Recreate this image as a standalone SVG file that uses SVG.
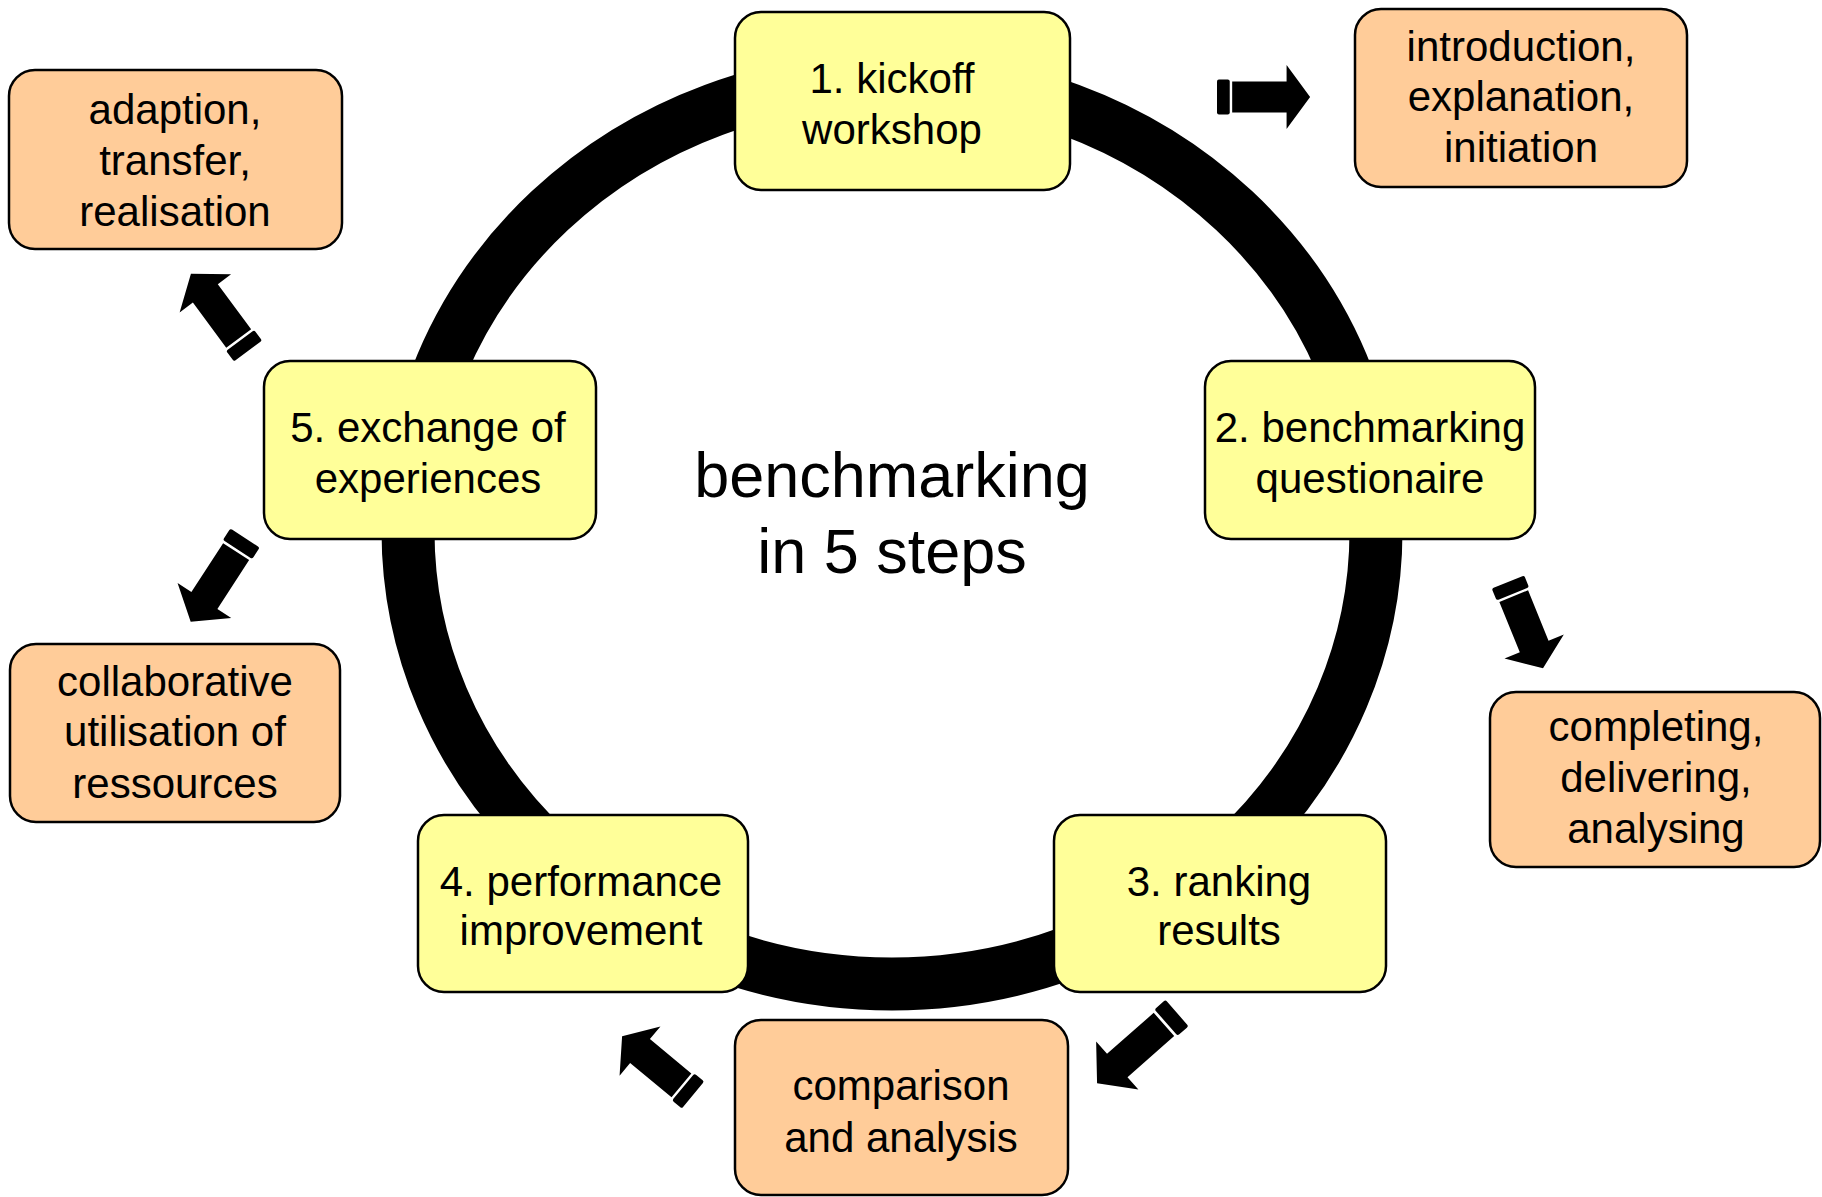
<svg xmlns="http://www.w3.org/2000/svg" width="1822" height="1197" viewBox="0 0 1822 1197">
  <style>
    .step { fill: #FFFF99; stroke: #000; stroke-width: 2.5; }
    .note { fill: #FFCC99; stroke: #000; stroke-width: 2.5; }
    .lbl { font-family: "Liberation Sans", Arial, sans-serif; font-size: 42px; fill: #000; text-anchor: middle; }
    .title { font-family: "Liberation Sans", Arial, sans-serif; font-size: 63px; fill: #000; text-anchor: middle; }
    .arrow { fill: #000; }
  </style>
  <defs>
    <!-- block arrow pointing along +x, tail end at origin -->
    <g id="blockArrow95">
      <rect x="0" y="-17.5" width="13" height="35" rx="2"/>
      <path d="M15.5,-15.5 H71 V-32 L95,0 L71,32 V15.5 H15.5 Z"/>
    </g>
  </defs>
  <rect width="1822" height="1197" fill="#fff"/>

  <!-- cycle ring and connectors -->
  <g id="connectors">
    <ellipse cx="892" cy="531" rx="484" ry="453" fill="none" stroke="#000" stroke-width="53"/>
    <g class="arrow">
      <use href="#blockArrow95" transform="translate(1217,97) scale(0.98,1)"/>
      <use href="#blockArrow95" transform="translate(1508,582) rotate(67.9) scale(0.98,1)"/>
      <use href="#blockArrow95" transform="translate(1177,1013) rotate(138.7) scale(1.12,1)"/>
      <use href="#blockArrow95" transform="translate(693,1095) rotate(-140.3) scale(0.97,1)"/>
      <use href="#blockArrow95" transform="translate(245,538) rotate(123) scale(1.05,1)"/>
      <use href="#blockArrow95" transform="translate(248,351) rotate(-126.5) scale(1.01,1)"/>
    </g>
  </g>

  <text class="title" x="892" y="497">benchmarking</text>
  <text class="title" x="892" y="573">in 5 steps</text>

  <g id="step1">
    <rect class="step" x="735" y="12" width="335" height="178" rx="26"/>
    <text class="lbl" x="892" y="93">1. kickoff</text>
    <text class="lbl" x="892" y="144">workshop</text>
  </g>
  <g id="note1">
    <rect class="note" x="1355" y="9" width="332" height="178" rx="26"/>
    <text class="lbl" x="1521" y="61">introduction,</text>
    <text class="lbl" x="1521" y="111">explanation,</text>
    <text class="lbl" x="1521" y="162">initiation</text>
  </g>
  <g id="step2">
    <rect class="step" x="1205" y="361" width="330" height="178" rx="26"/>
    <text class="lbl" x="1370" y="442">2. benchmarking</text>
    <text class="lbl" x="1370" y="493">questionaire</text>
  </g>
  <g id="note2">
    <rect class="note" x="1490" y="692" width="330" height="175" rx="26"/>
    <text class="lbl" x="1656" y="741">completing,</text>
    <text class="lbl" x="1656" y="792">delivering,</text>
    <text class="lbl" x="1656" y="843">analysing</text>
  </g>
  <g id="step3">
    <rect class="step" x="1054" y="815" width="332" height="177" rx="26"/>
    <text class="lbl" x="1219" y="896">3. ranking</text>
    <text class="lbl" x="1219" y="945">results</text>
  </g>
  <g id="note3">
    <rect class="note" x="735" y="1020" width="333" height="175" rx="26"/>
    <text class="lbl" x="901" y="1100">comparison</text>
    <text class="lbl" x="901" y="1152">and analysis</text>
  </g>
  <g id="step4">
    <rect class="step" x="418" y="815" width="330" height="177" rx="26"/>
    <text class="lbl" x="581" y="896">4. performance</text>
    <text class="lbl" x="581" y="945">improvement</text>
  </g>
  <g id="note4">
    <rect class="note" x="10" y="644" width="330" height="178" rx="26"/>
    <text class="lbl" x="175" y="696">collaborative</text>
    <text class="lbl" x="175" y="746">utilisation of</text>
    <text class="lbl" x="175" y="798">ressources</text>
  </g>
  <g id="step5">
    <rect class="step" x="264" y="361" width="332" height="178" rx="26"/>
    <text class="lbl" x="428" y="442">5. exchange of</text>
    <text class="lbl" x="428" y="493">experiences</text>
  </g>
  <g id="note5">
    <rect class="note" x="9" y="70" width="333" height="179" rx="26"/>
    <text class="lbl" x="175" y="124">adaption,</text>
    <text class="lbl" x="175" y="175">transfer,</text>
    <text class="lbl" x="175" y="226">realisation</text>
  </g>
</svg>
